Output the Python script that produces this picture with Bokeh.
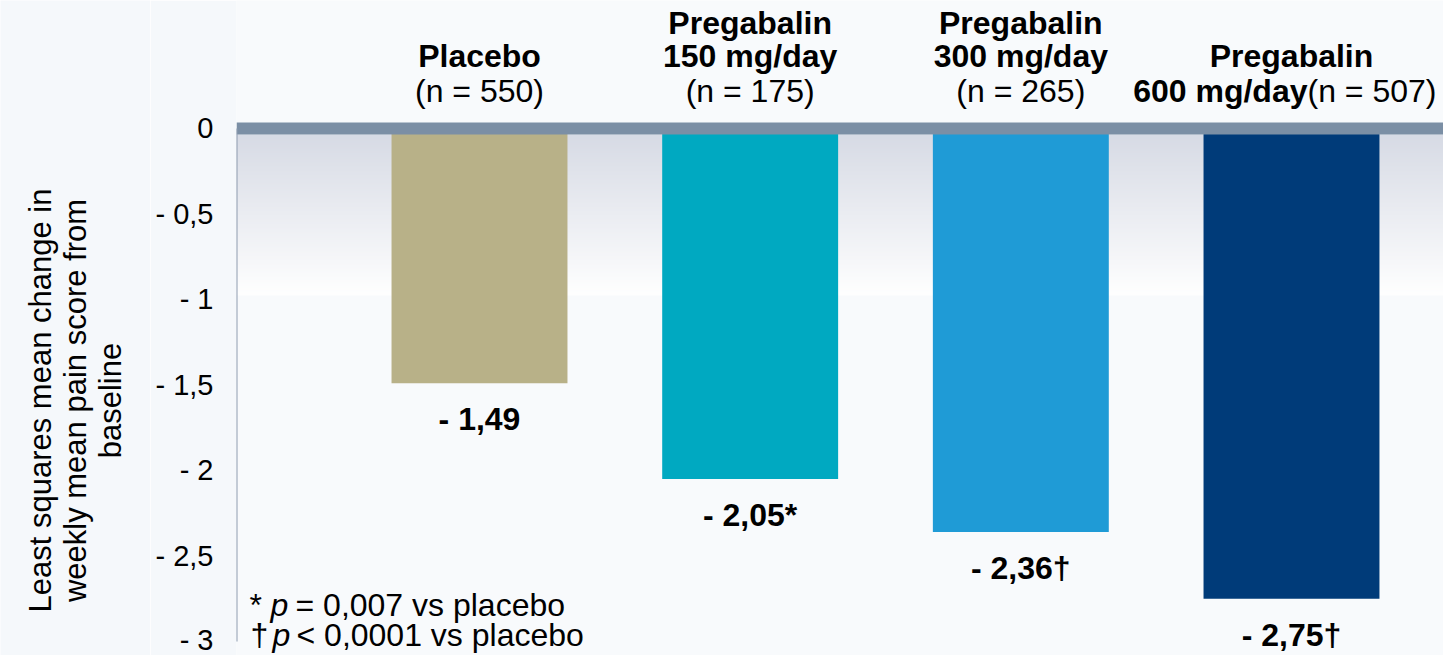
import numpy as np
from bokeh.plotting import figure
from bokeh.layouts import row
from bokeh.models import FixedTicker, ColumnDataSource
from bokeh.core.properties import value
from bokeh.embed import file_html
from bokeh.resources import INLINE

# ---- data ----
groups = ["Placebo", "Pregabalin 150 mg/day", "Pregabalin 300 mg/day", "Pregabalin 600 mg/day"]
n_sizes = [550, 175, 265, 507]
changes = [-1.49, -2.05, -2.36, -2.75]
markers = ["", "*", "†", "†"]
colors = ["#b8b188", "#00a9c1", "#1f9bd6", "#003b79"]
tick_values = [0, -0.5, -1, -1.5, -2, -2.5, -3]
tick_labels = ["0", "- 0,5", "- 1", "- 1,5", "- 2", "- 2,5", "- 3"]
y_title = ["Least squares mean change in", "weekly mean pain score from", "baseline"]

FONT = "Liberation Sans"
BG = "#f5f8fb"
H = 655
xs = list(range(1, len(groups) + 1))
x_lo, x_hi = 0.1022, 4.5616
y_lo, y_hi = -3.082, 0.7485

# ---- narrow panel carrying the rotated axis title ----
t = figure(width=150, height=H, x_range=(0, 150), y_range=(H, 0),
           output_backend="svg", toolbar_location=None,
           min_border=0, background_fill_color=BG, border_fill_color=BG)
t.outline_line_color = None
t.grid.visible = False
t.axis.visible = False
t.text(x=[40, 75, 110], y=[400, 400, 400], text=y_title, angle=np.pi / 2,
       text_font=value(FONT), text_font_size="31px", text_align="center",
       text_baseline="middle", text_color="black")

# ---- main chart ----
p = figure(width=1443 - 150, height=H, x_range=(x_lo, x_hi), y_range=(y_lo, y_hi),
           output_backend="svg", toolbar_location=None,
           min_border_left=86, min_border_right=0, min_border_top=0, min_border_bottom=0,
           background_fill_color="#f8fafc", border_fill_color=BG)
p.outline_line_color = None
p.grid.visible = False
p.xaxis.visible = False

ax = p.yaxis[0]
ax.ticker = FixedTicker(ticks=tick_values)
ax.major_label_overrides = {v: s for v, s in zip(tick_values, tick_labels)}
ax.major_label_text_font = FONT
ax.major_label_text_font_size = "29px"
ax.major_label_text_color = "black"
ax.axis_line_color = None
ax.major_tick_line_color = None
ax.minor_tick_line_color = None
ax.major_label_standoff = 17

# soft shaded band under the zero line
grad_top, grad_bot = -0.035, -0.977
rows = 200
frac = np.linspace(0, 1, rows)[:, None]
c_top = np.array([215, 219, 229])
c_bot = np.array([255, 255, 255])
rgb = (c_bot * (1 - frac) + c_top * frac).astype(np.uint8)  # row 0 = bottom
img = np.empty((rows, 1), dtype=np.uint32)
view = img.view(dtype=np.uint8).reshape((rows, 1, 4))
view[:, 0, :3] = rgb
view[:, 0, 3] = 255
p.image_rgba(image=[img], x=x_lo, y=grad_bot, dw=x_hi - x_lo, dh=grad_top - grad_bot)

# bars
src = ColumnDataSource(dict(x=xs, top=[0] * len(xs), bottom=changes, color=colors,
                            label=["- " + f"{abs(v):.2f}".replace(".", ",") + m
                                   for v, m in zip(changes, markers)]))
p.vbar(x="x", top="top", bottom="bottom", width=0.65, fill_color="color", line_color=None, source=src)

# zero line band and left axis line
p.hbar(y=[0], left=[x_lo], right=[x_hi], height=12 / 171, fill_color="#7b8fa5", line_color=None)
p.segment(x0=[x_lo], y0=[0], x1=[x_lo], y1=[tick_values[-1]], line_color="#8d9bb0", line_width=2)

# value labels below each bar
p.text(x="x", y="bottom", text="label", source=src, text_font=value(FONT),
       text_font_style="bold", text_font_size="32px", text_align="center",
       text_baseline="middle", y_offset=36, text_color="black")

# group headers above the plot
hdr_font = dict(text_font=value(FONT), text_font_size="32px", text_baseline="middle",
                text_color="black")
n_text = [f"(n = {n})" for n in n_sizes]
# placebo
p.text(x=[xs[0]], y=[0], text=[groups[0]], y_offset=-72, text_font_style="bold",
       text_align="center", **hdr_font)
p.text(x=[xs[0]], y=[0], text=[n_text[0]], y_offset=-37, text_align="center", **hdr_font)
# 150 and 300 mg/day
for i in (1, 2):
    name, dose = groups[i].split(" ", 1)
    p.text(x=[xs[i]], y=[0], text=[name], y_offset=-105, text_font_style="bold",
           text_align="center", **hdr_font)
    p.text(x=[xs[i]], y=[0], text=[dose], y_offset=-72, text_font_style="bold",
           text_align="center", **hdr_font)
    p.text(x=[xs[i]], y=[0], text=[n_text[i]], y_offset=-37, text_align="center", **hdr_font)
# 600 mg/day: dose and n share one line
name, dose = groups[3].split(" ", 1)
p.text(x=[xs[3]], y=[0], text=[name], y_offset=-72, text_font_style="bold",
       text_align="center", **hdr_font)
p.text(x=[xs[3]], y=[0], text=[dose], y_offset=-37, x_offset=16, text_font_style="bold",
       text_align="right", **hdr_font)
p.text(x=[xs[3]], y=[0], text=[n_text[3]], y_offset=-37, x_offset=16, text_align="left",
       **hdr_font)

# footnotes
foot = dict(text_font=value(FONT), text_font_size="32px", text_align="left",
            text_baseline="middle", text_color="black")
foot_rows = [("*", "= 0,007 vs placebo", -36, (13, 34, 59)),
             ("†", "< 0,0001 vs placebo", -6, (14, 36, 60))]
for sym, rest, dy, (o1, o2, o3) in foot_rows:
    p.text(x=[x_lo], y=[tick_values[-1]], text=[sym], x_offset=o1, y_offset=dy, **foot)
    p.text(x=[x_lo], y=[tick_values[-1]], text=["p"], x_offset=o2, y_offset=dy,
           text_font_style="italic", **foot)
    p.text(x=[x_lo], y=[tick_values[-1]], text=[rest], x_offset=o3, y_offset=dy, **foot)

layout = row(t, p)
open("out.html", "w").write(file_html(layout, INLINE))
